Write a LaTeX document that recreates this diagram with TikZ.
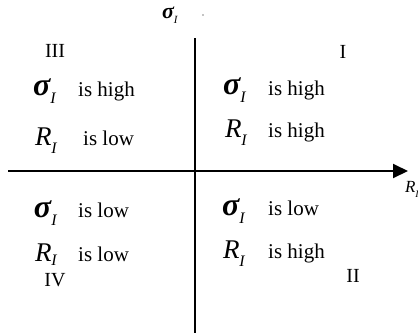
\documentclass[tikz,border=0pt]{standalone}
\usepackage{fontspec}
\setmainfont{Liberation Serif}
\usetikzlibrary{arrows.meta}
\newcommand\qvar[2][-8pt]{#2\raisebox{#1}{\fontsize{16}{16}\selectfont\itshape\mdseries I}}
\newcommand\qsig{{\fontsize{32}{32}\selectfont\bfseries\itshape σ}}
\newcommand\qR{{\fontsize{27}{27}\selectfont\itshape R}}
\begin{document}
\begin{tikzpicture}[x=1pt,y=-1pt,
  axis/.style={line width=2pt,black},
  sym/.style={anchor=base west,inner sep=0pt,outer sep=0pt},
  txt/.style={anchor=base west,inner sep=0pt,font=\fontsize{21}{21}\selectfont},
  roman/.style={anchor=base,inner sep=0pt,font=\fontsize{20}{20}\selectfont}]
\useasboundingbox (0,0) rectangle (418,333);
% axes
\coordinate (vtop) at (195,38);
\coordinate (vbot) at (195,333);
\coordinate (hl) at (8,171);
\coordinate (hr) at (408,171);
\draw[axis] (vtop) -- (vbot);
\draw[axis,-{Triangle[length=15pt,width=14pt]}] (hl) -- (hr);
% axis labels
\node[sym] (ylab) at (162,18) {{\fontsize{22}{22}\selectfont\bfseries\itshape σ}\raisebox{-5pt}{\fontsize{11}{11}\selectfont\itshape I}};
\fill (203,15) circle (0.6);
\node[sym] (xlab) at (405,192) {{\fontsize{17}{17}\selectfont\itshape R}\raisebox{-5pt}{\fontsize{10}{10}\selectfont\itshape I}};
% quadrant III
\node[roman] (q3) at (55,57) {III};
\node[sym] (q3s) at (33,95) {\qvar{\qsig}};
\node[txt] (q3st) at (78,96) {is high};
\node[sym] (q3r) at (35,145) {\qvar{\qR}};
\node[txt] (q3rt) at (83,145) {is low};
% quadrant I
\node[roman] (q1) at (343,58) {I};
\node[sym] (q1s) at (223,94) {\qvar{\qsig}};
\node[txt] (q1st) at (268,95) {is high};
\node[sym] (q1r) at (225,137) {\qvar{\qR}};
\node[txt] (q1rt) at (268,137) {is high};
% quadrant IV
\node[sym] (q4s) at (34,217) {\qvar{\qsig}};
\node[txt] (q4st) at (78,217) {is low};
\node[sym] (q4r) at (35,261) {\qvar[-4pt]{\qR}};
\node[txt] (q4rt) at (78,261) {is low};
\node[roman] (q4) at (55,286) {IV};
% quadrant II
\node[sym] (q2s) at (222,215) {\qvar{\qsig}};
\node[txt] (q2st) at (268,215) {is low};
\node[sym] (q2r) at (223,258) {\qvar{\qR}};
\node[txt] (q2rt) at (268,258) {is high};
\node[roman] (q2) at (353,282) {II};
\end{tikzpicture}
\end{document}
